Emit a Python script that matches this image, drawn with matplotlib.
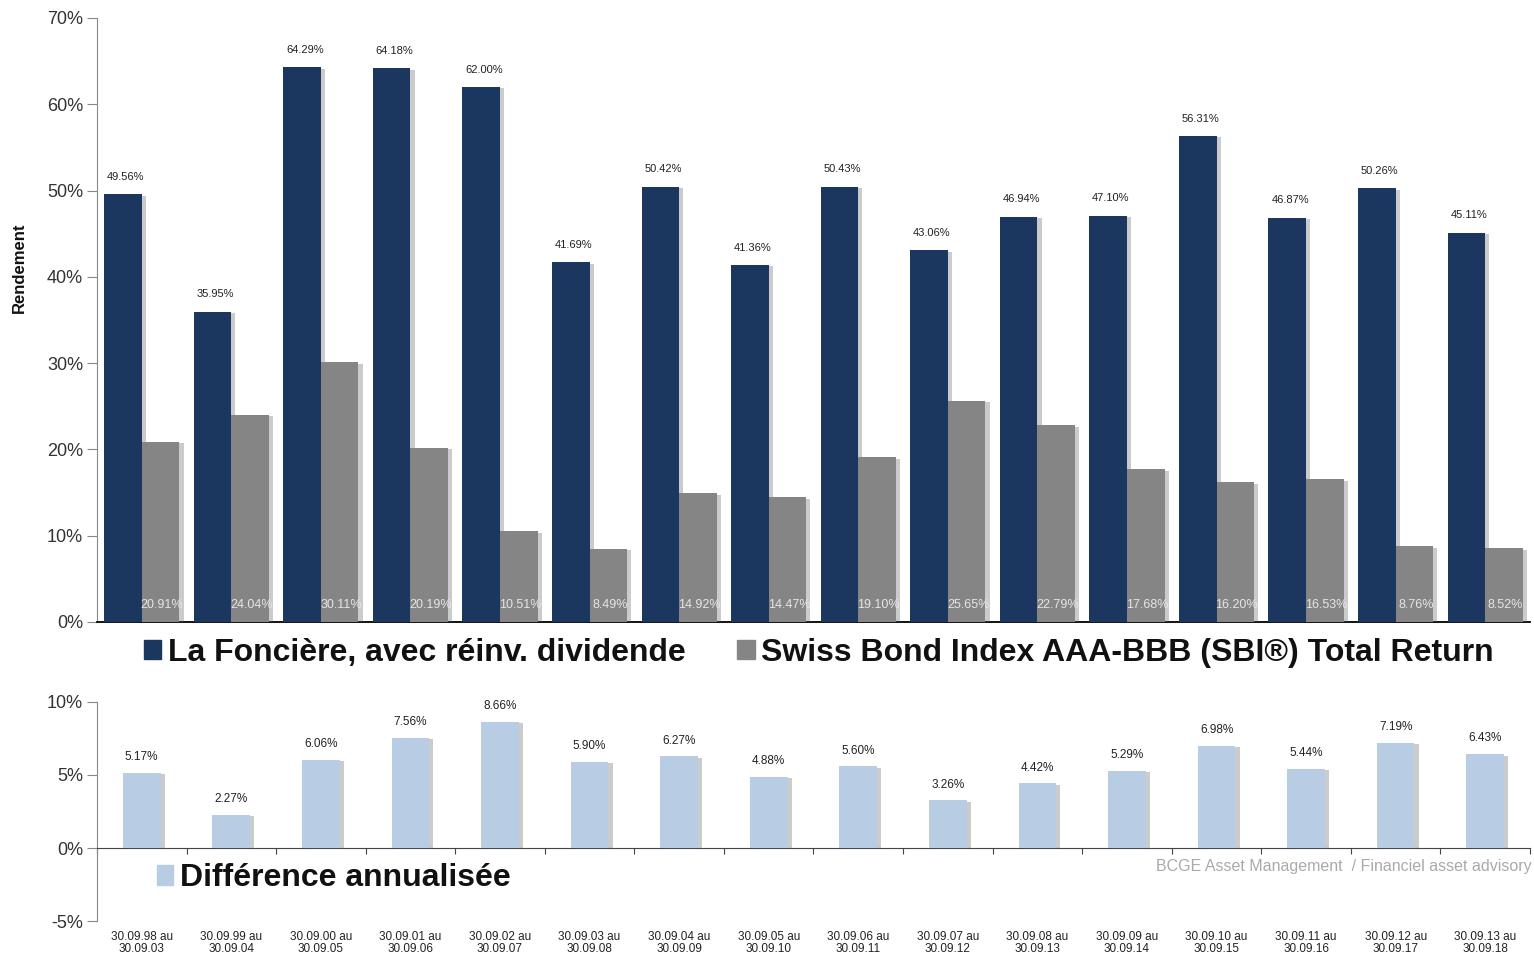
import matplotlib
matplotlib.use("Agg")
import matplotlib.pyplot as plt
import matplotlib.patheffects as pe
from matplotlib.patches import Patch
from matplotlib.transforms import blended_transform_factory
import numpy as np

plt.rcParams['font.family'] = ['Liberation Sans', 'DejaVu Sans']

periods_start = ["30.09.98 au", "30.09.99 au", "30.09.00 au", "30.09.01 au", "30.09.02 au",
                 "30.09.03 au", "30.09.04 au", "30.09.05 au", "30.09.06 au", "30.09.07 au",
                 "30.09.08 au", "30.09.09 au", "30.09.10 au", "30.09.11 au", "30.09.12 au",
                 "30.09.13 au"]
periods_end = ["30.09.03", "30.09.04", "30.09.05", "30.09.06", "30.09.07", "30.09.08",
               "30.09.09", "30.09.10", "30.09.11", "30.09.12", "30.09.13", "30.09.14",
               "30.09.15", "30.09.16", "30.09.17", "30.09.18"]
fonciere = [49.56, 35.95, 64.29, 64.18, 62.00, 41.69, 50.42, 41.36, 50.43, 43.06,
            46.94, 47.10, 56.31, 46.87, 50.26, 45.11]
sbi = [20.91, 24.04, 30.11, 20.19, 10.51, 8.49, 14.92, 14.47, 19.10, 25.65,
       22.79, 17.68, 16.20, 16.53, 8.76, 8.52]
difference = [5.17, 2.27, 6.06, 7.56, 8.66, 5.90, 6.27, 4.88, 5.60, 3.26,
              4.42, 5.29, 6.98, 5.44, 7.19, 6.43]

c_dark = '#1b365f'
c_gray = '#858585'
c_light = '#b8cde4'
txt = '#333333'

fig = plt.figure(figsize=(15.34, 9.56), dpi=100)
ax = fig.add_axes([0.0632, 0.3494, 0.9342, 0.6318])
ax2 = fig.add_axes([0.0632, 0.0366, 0.9342, 0.2291])

x = np.arange(len(fonciere))
w = 0.42
shadow = [pe.SimplePatchShadow(offset=(3, -1), shadow_rgbFace='#555555', alpha=0.3), pe.Normal()]

b1 = ax.bar(x - w / 2, fonciere, w, color=c_dark, zorder=3)
b2 = ax.bar(x + w / 2, sbi, w, color=c_gray, zorder=3)
for b in list(b1) + list(b2):
    b.set_path_effects(shadow)

for xi, v in zip(x, fonciere):
    ax.annotate(f"{v:.2f}%", (xi - w / 2, v), xytext=(2, 9), textcoords='offset points',
                ha='center', va='bottom', fontsize=8, color='#222222')
for xi, v in zip(x, sbi):
    ax.annotate(f"{v:.2f}%", (xi + w / 2, 0), xytext=(1, 12), textcoords='offset points',
                ha='center', va='center', fontsize=9, color='#e6e6e6', zorder=5)

ax.set_xlim(-0.5, len(x) - 0.5)
ax.set_ylim(0, 70)
ax.set_yticks(np.arange(0, 71, 10))
ax.set_yticklabels([f"{t}%" for t in range(0, 71, 10)], fontsize=13, color=txt)
ax.set_xticks([])
for s in ['top', 'right']:
    ax.spines[s].set_visible(False)
ax.spines['left'].set_color('#888888')
ax.spines['bottom'].set_color('black')
ax.spines['bottom'].set_linewidth(1.3)
ax.tick_params(axis='y', length=7, color='#888888', pad=3)

fig.text(0.0125, 0.72, "Rendement", rotation=90, ha='center', va='center',
         fontsize=12, fontweight='bold', color='#111111')

handles = [Patch(color=c_dark), Patch(color=c_gray)]
fig.legend(handles, ["La Foncière, avec réinv. dividende",
                     "Swiss Bond Index AAA-BBB (SBI®) Total Return"],
           loc='center', bbox_to_anchor=(0.5336, 0.317), ncol=2, frameon=False,
           prop={'size': 23, 'weight': 'bold'}, handlelength=0.56, handleheight=0.56,
           handletextpad=0.2, columnspacing=1.6, labelcolor='#111111')

# bottom chart
b3 = ax2.bar(x, difference, w, color=c_light, zorder=3)
for b in b3:
    b.set_path_effects(shadow)
for xi, v in zip(x, difference):
    ax2.annotate(f"{v:.2f}%", (xi, v), xytext=(0, 7), textcoords='offset points',
                 ha='center', va='bottom', fontsize=8.5, color='#222222')

ax2.set_xlim(-0.5, len(x) - 0.5)
ax2.set_ylim(-5, 10)
ax2.set_yticks([-5, 0, 5, 10])
ax2.set_yticklabels(["-5%", "0%", "5%", "10%"], fontsize=13, color=txt)
ax2.tick_params(axis='y', length=7, color='#888888', pad=3)
for s in ['top', 'right']:
    ax2.spines[s].set_visible(False)
ax2.spines['left'].set_color('#888888')
ax2.spines['bottom'].set_position(('data', 0))
ax2.spines['bottom'].set_color('#444444')
ax2.set_xticks(np.arange(-0.5, len(x), 1.0))
ax2.set_xticklabels([])
ax2.tick_params(axis='x', length=4, color='#444444')

tr = blended_transform_factory(ax2.transData, ax2.transAxes)
for xi, s1, s2 in zip(x, periods_start, periods_end):
    ax2.text(xi, -0.045, s1 + "\n" + s2, transform=tr, ha='center', va='top',
             fontsize=8.5, color='#222222', linespacing=1.0)

ax2.legend([Patch(color=c_light)], ["Différence annualisée"], loc='center left',
           bbox_to_anchor=(0.022, 0.195), frameon=False,
           prop={'size': 23, 'weight': 'bold'}, handlelength=0.5, handleheight=0.56,
           handletextpad=0.2, labelcolor='#111111')

fig.text(0.9985, 0.094, "BCGE Asset Management  / Financiel asset advisory", ha='right',
         va='center', fontsize=11.5, color='#aaaaaa')

fig.savefig("out.png", dpi=100)
